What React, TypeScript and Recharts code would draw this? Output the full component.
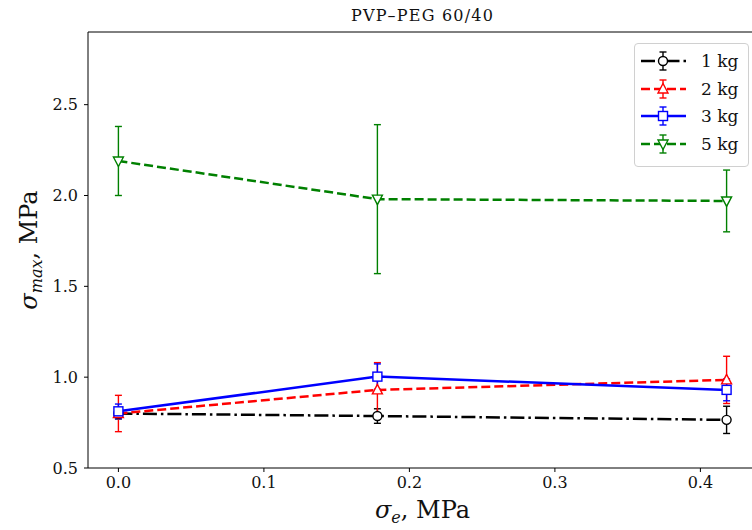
import React from 'react';
import { LineChart, Line, XAxis, YAxis, ErrorBar, Legend, ReferenceLine } from 'recharts';

// sigma_e, MPa
const stressE = [0, 0.178, 0.418];
const loadNames = ['1 kg', '2 kg', '3 kg', '5 kg'];

// sigma_max, MPa  and error bars
const sigma1kg = [0.8, 0.786, 0.765];
const err1kg = [0.03, 0.04, 0.075];
const sigma2kg = [0.8, 0.93, 0.985];
const err2kg = [0.1, 0.15, 0.13];
const sigma3kg = [0.812, 1.003, 0.93];
const err3kg = [0.04, 0.07, 0.06];
const sigma5kg = [2.19, 1.98, 1.97];
const err5kg = [0.19, 0.41, 0.17];

const xTicks = [0, 0.1, 0.2, 0.3, 0.4];
const yTicks = [0.5, 1.0, 1.5, 2.0, 2.5];

const FONT = 'DejaVu Serif';

const toRows = (vals: number[], errs: number[]) =>
  stressE.map((x, i) => ({ x, y: vals[i], err: errs[i] }));

const series = [
  { name: loadNames[0], color: '#000000', dash: '14 4 2.5 4', shape: 'circle', data: toRows(sigma1kg, err1kg) },
  { name: loadNames[1], color: '#ff0000', dash: '9 4', shape: 'triUp', data: toRows(sigma2kg, err2kg) },
  { name: loadNames[2], color: '#0000ff', dash: undefined, shape: 'square', data: toRows(sigma3kg, err3kg) },
  { name: loadNames[3], color: '#008000', dash: '9 4', shape: 'triDown', data: toRows(sigma5kg, err5kg) },
];

function Marker({ shape, color, cx, cy }: any) {
  const common = { fill: '#fff', stroke: color, strokeWidth: 1.4 };
  if (shape === 'circle') return <circle cx={cx} cy={cy} r={4.5} {...common} />;
  if (shape === 'square') return <rect x={cx - 4.5} y={cy - 4.5} width={9} height={9} {...common} />;
  if (shape === 'triUp')
    return <polygon points={`${cx},${cy - 5.5} ${cx - 5},${cy + 4} ${cx + 5},${cy + 4}`} {...common} />;
  return <polygon points={`${cx},${cy + 5.5} ${cx - 5},${cy - 4} ${cx + 5},${cy - 4}`} {...common} />;
}

const makeDot = (shape: string, color: string) => (props: any) => {
  const { cx, cy, index } = props;
  if (cx == null || cy == null) return <g key={`d${index}`} />;
  return <Marker key={`d${index}`} shape={shape} color={color} cx={cx} cy={cy} />;
};

function LegendBox() {
  return (
    <div
      style={{
        width: 113,
        height: 122,
        border: '1px solid #d0d0d0',
        borderRadius: 4,
        background: 'rgba(255,255,255,0.85)',
        fontFamily: FONT,
        fontSize: 17,
        color: '#111',
        boxSizing: 'content-box',
      }}
    >
      {series.map((s, i) => (
        <div key={s.name} style={{ position: 'absolute', left: 0, top: 6 + i * 27.7, height: 24, display: 'flex', alignItems: 'center' }}>
          <svg width={64} height={24} style={{ display: 'block' }}>
            <line x1={7} x2={52} y1={12} y2={12} stroke={s.color} strokeWidth={2.5} strokeDasharray={s.dash} />
            <line x1={29} x2={29} y1={3} y2={21} stroke={s.color} strokeWidth={1.4} />
            <line x1={25.5} x2={32.5} y1={3} y2={3} stroke={s.color} strokeWidth={1.4} />
            <line x1={25.5} x2={32.5} y1={21} y2={21} stroke={s.color} strokeWidth={1.4} />
            <Marker shape={s.shape} color={s.color} cx={29} cy={12} />
          </svg>
          <span style={{ marginLeft: 3, lineHeight: '24px' }}>{s.name}</span>
        </div>
      ))}
    </div>
  );
}

const YTitle = ({ viewBox }: any) => {
  const cx = viewBox.x + 37;
  const cy = viewBox.y + viewBox.height / 2;
  return (
    <text x={cx} y={cy} textAnchor="middle" transform={`rotate(-90, ${cx}, ${cy})`} fontFamily={FONT} fontSize={24} fill="#111">
      <tspan fontStyle="italic">σ</tspan>
      <tspan fontStyle="italic" fontSize={16} dy={5}>max</tspan>
      <tspan dy={-5}>, MPa</tspan>
    </text>
  );
};

const XTitle = ({ viewBox }: any) => {
  const cx = viewBox.x + viewBox.width / 2;
  const cy = viewBox.y + 50;
  return (
    <text x={cx} y={cy} textAnchor="middle" fontFamily={FONT} fontSize={24} fill="#111">
      <tspan fontStyle="italic">σ</tspan>
      <tspan fontStyle="italic" fontSize={16} dy={5}>e</tspan>
      <tspan dy={-5}>, MPa</tspan>
    </text>
  );
};

const PlotTitle = ({ viewBox }: any) => (
  <text
    x={viewBox.x + viewBox.width / 2}
    y={viewBox.y - 11}
    textAnchor="middle"
    fontFamily={FONT}
    fontSize={16}
    letterSpacing={1.2}
    fill="#111"
  >
    PVP–PEG 60/40
  </text>
);

export default function App() {
  return (
    <div style={{ position: 'fixed', left: 0, top: 0, width: 752, height: 530, overflow: 'hidden', background: '#fff' }}>
      <LineChart width={770} height={530} margin={{ top: 32, right: 13, bottom: 0, left: 0 }}>
        <XAxis
          type="number"
          dataKey="x"
          domain={[-0.0209, 0.4389]}
          allowDataOverflow
          ticks={xTicks}
          tickFormatter={(v: number) => v.toFixed(1)}
          height={62}
          tickSize={4}
          tickMargin={5}
          stroke="#000"
          tick={{ fontFamily: FONT, fontSize: 16, fill: '#111' }}
          label={<XTitle />}
        />
        <YAxis
          type="number"
          domain={[0.5, 2.9]}
          allowDataOverflow
          ticks={yTicks}
          tickFormatter={(v: number) => v.toFixed(1)}
          width={88}
          tickSize={4}
          tickMargin={6}
          stroke="#000"
          tick={{ fontFamily: FONT, fontSize: 16, fill: '#111' }}
          label={<YTitle />}
        />
        <ReferenceLine y={2.9} stroke="#000" strokeWidth={1} label={<PlotTitle />} />
        {series.map((s) => (
          <Line
            key={s.name}
            data={s.data}
            dataKey="y"
            name={s.name}
            stroke={s.color}
            strokeWidth={2.5}
            strokeDasharray={s.dash}
            dot={makeDot(s.shape, s.color)}
            activeDot={false}
            isAnimationActive={false}
          >
            <ErrorBar dataKey="err" direction="y" width={3.5} strokeWidth={1.4} stroke={s.color} />
          </Line>
        ))}
        <Legend
          layout="vertical"
          align="center"
          verticalAlign="middle"
          content={() => <LegendBox />}
          wrapperStyle={{ left: 634, top: 43, width: 115, height: 124 }}
        />
      </LineChart>
    </div>
  );
}
